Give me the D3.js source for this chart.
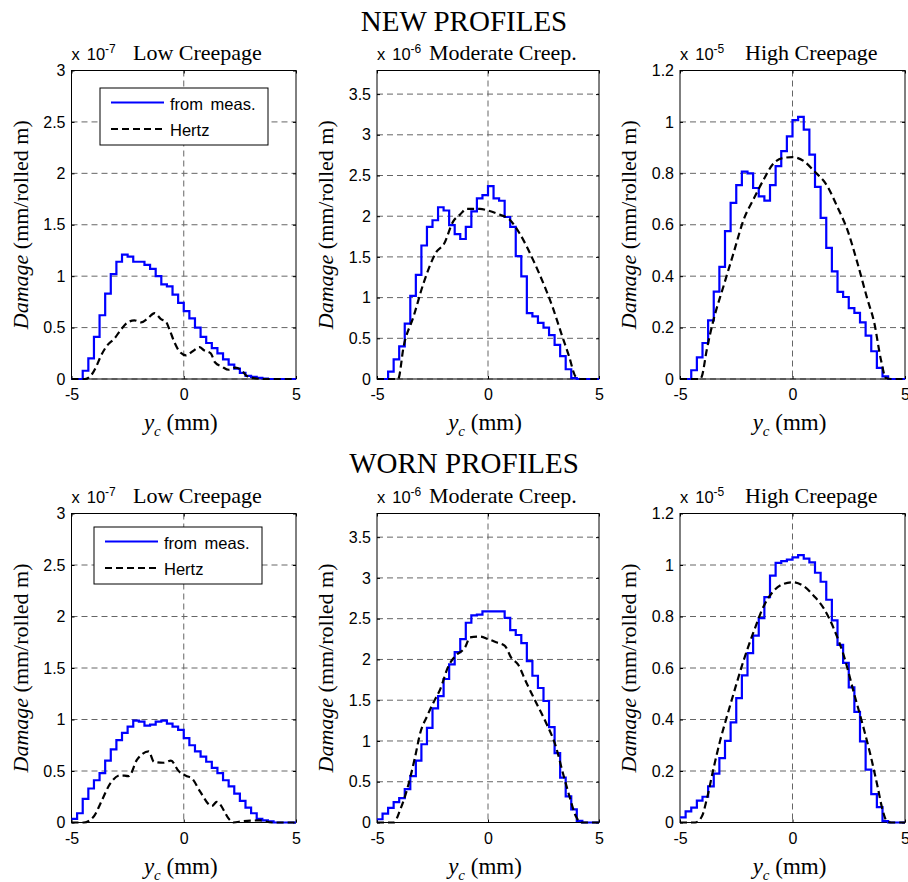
<!DOCTYPE html>
<html>
<head>
<meta charset="utf-8">
<script src="https://cdn.jsdelivr.net/npm/d3@7"></script>
<style>
  body { margin: 0; background: #fff; }
  svg { display: block; }
</style>
</head>
<body>
<div id="main-canvas"></div>
<script>
// Damage profiles, new vs worn wheel profiles, three creepage levels

// ------------ DATA ------------ //

// bin edges (mm) of the measured staircase curves
const binEdges = [-5, -4.75, -4.5, -4.25, -4, -3.75, -3.5, -3.25, -3, -2.75, -2.5, -2.25, -2, -1.75, -1.5, -1.25, -1, -0.75, -0.5, -0.25,
  0, 0.25, 0.5, 0.75, 1, 1.25, 1.5, 1.75, 2, 2.25, 2.5, 2.75, 3, 3.25, 3.5, 3.75, 4, 4.25, 4.5, 4.75, 5];

// "from meas." values per bin (in units of the panel exponent)
const measNewLow = [0, 0, 0.08, 0.2, 0.41, 0.62, 0.83, 1.02, 1.14, 1.21, 1.19, 1.14, 1.14, 1.11, 1.07, 1.0, 0.92, 0.9, 0.82, 0.74,
  0.66, 0.59, 0.5, 0.41, 0.35, 0.3, 0.25, 0.19, 0.14, 0.1, 0.06, 0.03, 0.02, 0.01, 0.005, 0, 0, 0, 0, 0];
const measNewMod = [0, 0, 0.09, 0.24, 0.40, 0.68, 1.02, 1.28, 1.64, 1.87, 1.95, 2.11, 2.07, 1.89, 1.78, 1.72, 1.87, 2.06, 2.22, 2.26,
  2.37, 2.22, 2.19, 1.99, 1.87, 1.51, 1.26, 0.81, 0.77, 0.69, 0.63, 0.54, 0.42, 0.28, 0.12, 0.01, 0, 0, 0, 0];
const measNewHigh = [0, 0, 0.034, 0.084, 0.14, 0.228, 0.34, 0.436, 0.575, 0.685, 0.754, 0.807, 0.80, 0.743, 0.71, 0.694, 0.754, 0.828, 0.886, 0.944,
  1.007, 1.02, 0.97, 0.873, 0.747, 0.627, 0.51, 0.419, 0.339, 0.319, 0.276, 0.257, 0.22, 0.169, 0.108, 0.043, 0.01, 0, 0, 0];
const measWornLow = [0.035, 0.09, 0.23, 0.33, 0.41, 0.48, 0.60, 0.71, 0.80, 0.87, 0.93, 0.99, 0.98, 0.94, 0.95, 0.98, 0.99, 0.96, 0.93, 0.90,
  0.82, 0.75, 0.69, 0.64, 0.59, 0.53, 0.48, 0.41, 0.35, 0.28, 0.21, 0.145, 0.09, 0.035, 0.02, 0.01, 0, 0, 0, 0];
const measWornMod = [0.04, 0.11, 0.18, 0.25, 0.30, 0.41, 0.57, 0.76, 0.96, 1.16, 1.40, 1.55, 1.76, 1.94, 2.09, 2.25, 2.45, 2.54, 2.55, 2.59,
  2.59, 2.59, 2.59, 2.51, 2.36, 2.30, 2.20, 1.98, 1.80, 1.65, 1.49, 1.17, 0.85, 0.55, 0.32, 0.16, 0.02, 0, 0, 0];
const measWornHigh = [0.02, 0.043, 0.058, 0.085, 0.10, 0.14, 0.19, 0.25, 0.317, 0.389, 0.483, 0.571, 0.658, 0.726, 0.794, 0.875, 0.959, 1.008, 1.015, 1.021,
  1.03, 1.038, 1.025, 1.01, 0.97, 0.935, 0.865, 0.785, 0.69, 0.62, 0.525, 0.43, 0.315, 0.205, 0.11, 0.06, 0.005, 0, 0, 0];

// "Hertz" curves as [y_c, damage] pairs
const hertzNewLow = [[-5, 0], [-4.4, 0], [-4.15, 0.03], [-3.9, 0.12], [-3.7, 0.22], [-3.4, 0.33], [-3.1, 0.39], [-2.8, 0.48], [-2.5, 0.55],
  [-2.2, 0.57], [-1.9, 0.55], [-1.6, 0.59], [-1.3, 0.64], [-1.0, 0.58], [-0.8, 0.56], [-0.6, 0.46], [-0.4, 0.35], [-0.2, 0.27], [0.1, 0.23],
  [0.4, 0.27], [0.7, 0.31], [0.9, 0.28], [1.2, 0.25], [1.4, 0.16], [1.7, 0.12], [2.0, 0.09], [2.3, 0.11], [2.6, 0.08], [2.8, 0.03],
  [3.1, 0.01], [3.6, 0], [5, 0]];
const hertzNewMod = [[-5, 0], [-4.05, 0], [-3.8, 0.4], [-3.35, 0.77], [-2.9, 1.18], [-2.3, 1.57], [-2.0, 1.65], [-1.56, 1.94], [-1.26, 2.02],
  [-0.96, 2.09], [-0.37, 2.09], [0, 2.07], [0.52, 2.02], [0.97, 1.96], [1.42, 1.79], [2.02, 1.47], [2.3, 1.3], [2.9, 0.89], [3.35, 0.52],
  [3.65, 0.28], [3.95, 0.03], [4.2, 0], [5, 0]];
const hertzNewHigh = [[-5, 0], [-4.1, 0], [-4.03, 0.01], [-3.81, 0.114], [-3.51, 0.23], [-3.07, 0.36], [-2.62, 0.49], [-2.17, 0.62], [-1.73, 0.70],
  [-1.28, 0.776], [-0.83, 0.84], [-0.39, 0.86], [0, 0.863], [0.51, 0.847], [0.95, 0.81], [1.55, 0.75], [1.99, 0.67], [2.44, 0.58],
  [2.89, 0.45], [3.33, 0.31], [3.63, 0.22], [3.93, 0.075], [4.15, 0.004], [4.38, 0], [5, 0]];
const hertzWornLow = [[-5, 0], [-4.45, 0], [-4.0, 0.06], [-3.7, 0.19], [-3.27, 0.38], [-2.82, 0.46], [-2.45, 0.45], [-2.08, 0.61], [-1.56, 0.69],
  [-1.33, 0.59], [-0.9, 0.58], [-0.57, 0.60], [-0.23, 0.50], [0.14, 0.45], [0.36, 0.43], [0.73, 0.30], [1.25, 0.16], [1.47, 0.20],
  [2.07, 0.02], [2.2, 0], [2.66, 0.013], [3.4, 0.02], [3.92, 0], [5, 0]];
const hertzWornMod = [[-5, 0], [-4.25, 0], [-3.95, 0.16], [-3.65, 0.40], [-3.28, 0.81], [-3.05, 1.10], [-2.75, 1.30], [-2.46, 1.47], [-2.16, 1.63],
  [-1.78, 1.92], [-1.48, 2.04], [-1.03, 2.15], [-0.81, 2.27], [-0.36, 2.28], [0, 2.25], [0.37, 2.21], [0.75, 2.17], [1.05, 2.02],
  [1.35, 1.94], [1.72, 1.72], [2.17, 1.47], [2.62, 1.22], [3.07, 0.92], [3.37, 0.61], [3.67, 0.32], [3.97, 0.07], [4.2, 0], [5, 0]];
const hertzWornHigh = [[-5, 0], [-4.33, 0], [-4.03, 0.023], [-3.81, 0.09], [-3.51, 0.21], [-3.21, 0.32], [-2.92, 0.41], [-2.62, 0.50], [-2.17, 0.63],
  [-1.73, 0.74], [-1.28, 0.84], [-0.83, 0.90], [-0.39, 0.927], [0, 0.933], [0.51, 0.917], [0.95, 0.88], [1.40, 0.83], [1.85, 0.75],
  [2.29, 0.645], [2.74, 0.50], [3.18, 0.36], [3.48, 0.257], [3.78, 0.14], [4.0, 0.05], [4.2, 0.004], [4.4, 0], [5, 0]];

// tick values and labels
const xTicks = [-5, 0, 5];
const xTickLabels = ["-5", "0", "5"];
const yTicksLow = [0, 0.5, 1, 1.5, 2, 2.5, 3];
const yTicksMod = [0, 0.5, 1, 1.5, 2, 2.5, 3, 3.5];
const yTicksHigh = [0, 0.2, 0.4, 0.6, 0.8, 1, 1.2];

const rowTitles = ["NEW PROFILES", "WORN PROFILES"];
const panelTitles = ["Low Creepage", "Moderate Creep.", "High Creepage"];
const exponents = ["-7", "-6", "-5"];
const legendLabels = ["from meas.", "Hertz"];

// ------------ LAYOUT ------------ //

const width = 908, height = 882;
const cols = [{ left: 71.5, right: 296, titleX: 133 }, { left: 377, right: 599, titleX: 429 }, { left: 680, right: 905, titleX: 745 }];
const rows = [{ top: 70.5, bottom: 379, headY: 31 }, { top: 513.5, bottom: 822.5, headY: 473 }];
const yMax = [3, 3.79, 1.2];
const yTicks = [yTicksLow, yTicksMod, yTicksHigh];

const panels = [
  { row: 0, col: 0, meas: measNewLow, hertz: hertzNewLow, legend: { x: 100, y: 88 } },
  { row: 0, col: 1, meas: measNewMod, hertz: hertzNewMod },
  { row: 0, col: 2, meas: measNewHigh, hertz: hertzNewHigh },
  { row: 1, col: 0, meas: measWornLow, hertz: hertzWornLow, legend: { x: 94, y: 527 } },
  { row: 1, col: 1, meas: measWornMod, hertz: hertzWornMod },
  { row: 1, col: 2, meas: measWornHigh, hertz: hertzWornHigh }
];

const serif = "'Liberation Serif', 'Times New Roman', serif";
const sans = "'Liberation Sans', Arial, sans-serif";

let svg = d3.select("#main-canvas").append("svg")
  .attr("width", width)
  .attr("height", height);

// row headings
rows.forEach((r, i) => {
  svg.append("text")
    .attr("x", 464)
    .attr("y", r.headY)
    .attr("text-anchor", "middle")
    .attr("font-family", serif)
    .attr("font-size", "29px")
    .text(rowTitles[i]);
});

panels.forEach(drawPanel);

// ------------ FUNCTIONS ------------ //

function drawPanel(p) {
  let c = cols[p.col], r = rows[p.row];
  let x = d3.scaleLinear().domain([-5, 5]).range([c.left, c.right]);
  let y = d3.scaleLinear().domain([0, yMax[p.col]]).range([r.bottom, r.top]);
  let ticks = yTicks[p.col];

  let g = svg.append("g");

  // dashed grid
  g.append("g").selectAll("line")
    .data(ticks)
    .enter().append("line")
    .attr("x1", c.left).attr("x2", c.right)
    .attr("y1", d => y(d)).attr("y2", d => y(d))
    .attr("stroke", "#666").attr("stroke-width", 1)
    .attr("stroke-dasharray", "6,4");
  g.append("line")
    .attr("x1", x(0)).attr("x2", x(0))
    .attr("y1", r.top).attr("y2", r.bottom)
    .attr("stroke", "#666").attr("stroke-width", 1)
    .attr("stroke-dasharray", "6,4");

  // axes with inward ticks
  let fmtY = d => String(+d.toFixed(2));
  let left = g.append("g").attr("transform", `translate(${c.left},0)`)
    .call(d3.axisLeft(y).tickValues(ticks).tickFormat(fmtY).tickSizeInner(-3).tickSizeOuter(0).tickPadding(6));
  let right = g.append("g").attr("transform", `translate(${c.right},0)`)
    .call(d3.axisRight(y).tickValues(ticks).tickFormat("").tickSizeInner(-3).tickSizeOuter(0));
  let bottom = g.append("g").attr("transform", `translate(0,${r.bottom})`)
    .call(d3.axisBottom(x).tickValues(xTicks).tickFormat((d, i) => xTickLabels[i]).tickSizeInner(-3).tickSizeOuter(0).tickPadding(10));
  let top = g.append("g").attr("transform", `translate(0,${r.top})`)
    .call(d3.axisTop(x).tickValues(xTicks).tickFormat("").tickSizeInner(-3).tickSizeOuter(0));
  [left, right, bottom, top].forEach(a => {
    a.select(".domain").remove();
    a.selectAll("line").attr("stroke", "#000");
    a.selectAll("text").attr("font-family", sans).attr("font-size", "16px").attr("fill", "#000");
  });

  // box
  g.append("rect")
    .attr("x", c.left).attr("y", r.top)
    .attr("width", c.right - c.left).attr("height", r.bottom - r.top)
    .attr("fill", "none").attr("stroke", "#000").attr("stroke-width", 1);

  // measured staircase
  let stairs = p.meas.map((v, i) => [binEdges[i], v]);
  stairs.push([binEdges[binEdges.length - 1], p.meas[p.meas.length - 1]]);
  let stepLine = d3.line()
    .x(d => x(d[0])).y(d => y(d[1]))
    .curve(d3.curveStepAfter);
  g.append("path")
    .attr("d", stepLine(stairs))
    .attr("fill", "none").attr("stroke", "#0000ff").attr("stroke-width", 2.2);

  // Hertz curve
  let smoothLine = d3.line()
    .x(d => x(d[0])).y(d => y(d[1]))
    .curve(d3.curveMonotoneX);
  g.append("path")
    .attr("d", smoothLine(p.hertz))
    .attr("fill", "none").attr("stroke", "#000").attr("stroke-width", 2.2)
    .attr("stroke-dasharray", "7,4");

  // exponent and title
  let expo = g.append("text")
    .attr("x", c.left).attr("y", r.top - 10.5)
    .attr("font-family", sans).attr("font-size", "16.5px");
  expo.append("tspan").text("x");
  expo.append("tspan").attr("dx", 7).text("10");
  expo.append("tspan").attr("font-size", "12px").attr("dy", -7).text(exponents[p.col]);

  g.append("text")
    .attr("x", c.titleX).attr("y", r.top - 10.5)
    .attr("font-family", serif).attr("font-size", "22px")
    .text(panelTitles[p.col]);

  // y label
  let yl = g.append("text")
    .attr("transform", `translate(${c.left - 44},${(r.top + r.bottom) / 2}) rotate(-90)`)
    .attr("text-anchor", "middle")
    .attr("font-family", serif).attr("font-size", "22px");
  yl.append("tspan").attr("font-style", "italic").text("Damage");
  yl.append("tspan").text(" (mm/rolled m)");

  // x label
  let xl = g.append("text")
    .attr("x", (c.left + c.right) / 2 - 3).attr("y", r.bottom + 51)
    .attr("text-anchor", "middle")
    .attr("font-family", serif).attr("font-size", "23px");
  xl.append("tspan").attr("font-style", "italic").text("y");
  xl.append("tspan").attr("font-style", "italic").attr("font-size", "15px").attr("dy", 6).text("c");
  xl.append("tspan").attr("dy", -6).text(" (mm)");

  if (p.legend) drawLegend(g, p.legend);
}

function drawLegend(g, pos) {
  let lg = g.append("g").attr("transform", `translate(${pos.x},${pos.y})`);
  lg.append("rect")
    .attr("width", 168).attr("height", 57)
    .attr("fill", "#fff").attr("stroke", "#000").attr("stroke-width", 1);
  let items = [
    { label: legendLabels[0], color: "#0000ff", dash: null, y: 14.5 },
    { label: legendLabels[1], color: "#000", dash: "7,4", y: 41 }
  ];
  items.forEach(it => {
    lg.append("line")
      .attr("x1", 11).attr("x2", 64)
      .attr("y1", it.y).attr("y2", it.y)
      .attr("stroke", it.color).attr("stroke-width", 2.2)
      .attr("stroke-dasharray", it.dash);
    lg.append("text")
      .attr("x", 70).attr("y", it.y + 7)
      .attr("font-family", sans).attr("font-size", "16.5px")
      .attr("word-spacing", "3px")
      .text(it.label);
  });
}
</script>
</body>
</html>
